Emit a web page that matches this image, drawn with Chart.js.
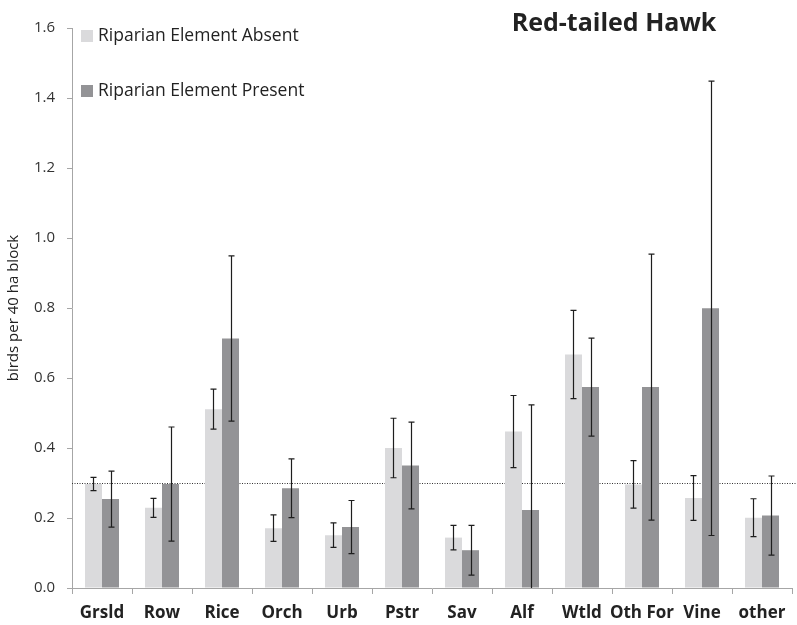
<!DOCTYPE html>
<html>
<head>
<meta charset="utf-8">
<script src="https://cdn.jsdelivr.net/npm/chart.js@4.4.1/dist/chart.umd.min.js"></script>
<style>
  html, body { margin: 0; padding: 0; background: #ffffff; }
  #wrap { width: 797px; height: 625px; position: relative; }
</style>
</head>
<body>
<div id="wrap"><canvas id="c" width="797" height="625"></canvas></div>
<script>
// Habitat categories along the x axis
const categories = ['Grsld', 'Row', 'Rice', 'Orch', 'Urb', 'Pstr', 'Sav', 'Alf', 'Wtld', 'Oth For', 'Vine', 'other'];

// Mean birds per 40 ha block, riparian element absent / present
const absentMean  = [0.297, 0.229, 0.511, 0.171, 0.151, 0.400, 0.144, 0.447, 0.667, 0.296, 0.257, 0.201];
const presentMean = [0.254, 0.297, 0.713, 0.285, 0.174, 0.350, 0.108, 0.223, 0.574, 0.574, 0.799, 0.207];

// Error bar half-widths (same units)
const absentErr  = [0.019, 0.027, 0.057, 0.038, 0.035, 0.085, 0.035, 0.103, 0.126, 0.068, 0.064, 0.054];
const presentErr = [0.080, 0.163, 0.236, 0.084, 0.076, 0.124, 0.071, 0.300, 0.140, 0.380, 0.649, 0.113];

// Overall reference level drawn as a dotted line
const overallMean = 0.3;

const yTicks = [0.0, 0.2, 0.4, 0.6, 0.8, 1.0, 1.2, 1.4, 1.6];
const seriesLabels = ['Riparian Element Absent', 'Riparian Element Present'];
const titleText = 'Red-tailed Hawk';

const FONT = '"Open Sans", "Liberation Sans", sans-serif';

// Error bars, reference line, legend and title
const decorations = {
  id: 'decorations',
  beforeDatasetsDraw(chart) {
    const { ctx, chartArea, scales } = chart;
    const y = scales.y.getPixelForValue(overallMean);
    ctx.save();
    ctx.strokeStyle = '#333333';
    ctx.lineWidth = 1;
    ctx.setLineDash([1, 1.5]);
    ctx.beginPath();
    ctx.moveTo(chartArea.left, Math.round(y) + 0.5);
    ctx.lineTo(chart.width, Math.round(y) + 0.5);
    ctx.stroke();
    ctx.restore();
  },
  afterDatasetsDraw(chart) {
    const { ctx, scales } = chart;
    const errs = [absentErr, presentErr];
    ctx.save();
    chart.data.datasets.forEach((ds, di) => {
      const meta = chart.getDatasetMeta(di);
      meta.data.forEach((bar, i) => {
        const v = ds.data[i];
        const e = errs[di][i];
        const lo = Math.max(0, v - e);
        const hi = v + e;
        const x = Math.round(bar.x) + 0.5;
        const yHi = scales.y.getPixelForValue(hi);
        const yLo = scales.y.getPixelForValue(lo);
        ctx.strokeStyle = '#1e1e1e';
        ctx.lineWidth = 1.2;
        ctx.beginPath();
        ctx.moveTo(x, yHi);
        ctx.lineTo(x, yLo);
        ctx.moveTo(x - 3, yHi);
        ctx.lineTo(x + 3, yHi);
        if (v - e > 0) {
          ctx.moveTo(x - 3, yLo);
          ctx.lineTo(x + 3, yLo);
        }
        ctx.stroke();
      });
    });
    ctx.restore();
  },
  afterDraw(chart) {
    const { ctx, chartArea } = chart;
    ctx.save();
    // legend
    const rows = [36, 91];
    chart.data.datasets.forEach((ds, i) => {
      const ly = rows[i];
      ctx.fillStyle = ds.backgroundColor;
      ctx.fillRect(chartArea.left + 9, ly - 6, 12, 12);
      ctx.fillStyle = '#222222';
      ctx.font = '17.5px ' + FONT;
      ctx.textBaseline = 'middle';
      ctx.textAlign = 'left';
      ctx.fillText(ds.label, chartArea.left + 26, ly);
    });
    // title
    ctx.fillStyle = '#222222';
    ctx.font = 'bold 25px ' + FONT;
    ctx.textAlign = 'center';
    ctx.textBaseline = 'middle';
    ctx.fillText(titleText, 614, 24);
    ctx.restore();
  }
};

new Chart(document.getElementById('c'), {
  type: 'bar',
  data: {
    labels: categories,
    datasets: [
      { label: seriesLabels[0], data: absentMean, backgroundColor: '#dadadc' },
      { label: seriesLabels[1], data: presentMean, backgroundColor: '#939396' }
    ]
  },
  options: {
    responsive: false,
    animation: false,
    devicePixelRatio: 1,
    layout: { padding: { top: 28, right: 5, left: 0, bottom: 0 } },
    datasets: { bar: { categoryPercentage: 0.567, barPercentage: 1.0 } },
    plugins: {
      legend: { display: false },
      title: { display: false },
      tooltip: { enabled: false }
    },
    scales: {
      x: {
        offset: true,
        grid: {
          display: true,
          offset: true,
          drawOnChartArea: false,
          drawTicks: true,
          tickLength: 6,
          color: '#a6a6a6'
        },
        border: { display: true, color: '#a6a6a6', width: 1 },
        ticks: {
          color: '#222222',
          font: { family: FONT, size: 17, weight: 'bold' },
          padding: 9,
          maxRotation: 0,
          autoSkip: false
        },
        afterFit(s) { s.height = 37; }
      },
      y: {
        min: 0,
        max: 1.6,
        afterBuildTicks(s) { s.ticks = yTicks.map(v => ({ value: v })); },
        grid: {
          display: true,
          drawOnChartArea: false,
          drawTicks: true,
          tickLength: 5,
          color: '#a6a6a6'
        },
        border: { display: true, color: '#a6a6a6', width: 1 },
        ticks: {
          color: '#333333',
          font: { family: FONT, size: 15 },
          padding: 12,
          callback: v => Number(v).toFixed(1)
        },
        title: {
          display: true,
          text: 'birds per 40 ha block',
          color: '#222222',
          font: { family: FONT, size: 15 },
          padding: { top: 5, bottom: 0 }
        },
        afterFit(s) { s.width = 72; }
      }
    }
  },
  plugins: [decorations]
});
</script>
</body>
</html>
